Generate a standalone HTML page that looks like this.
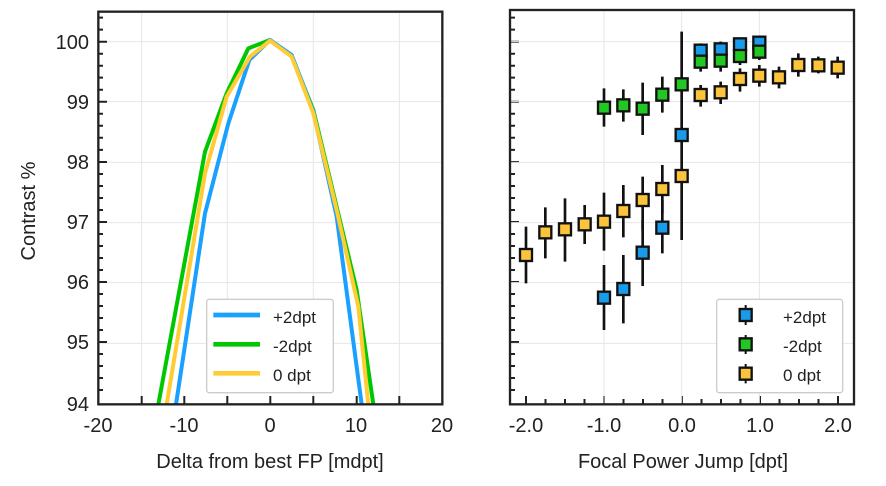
<!DOCTYPE html>
<html><head><meta charset="utf-8"><style>
body{margin:0;background:#fff;width:886px;height:481px;overflow:hidden}
text{font-family:"Liberation Sans",sans-serif;fill:#222}
</style></head><body>
<svg width="886" height="481" xmlns="http://www.w3.org/2000/svg">
<g transform="translate(90,0) scale(0.3333333)">
  <g stroke="#e6e6e6" stroke-width="3">
    <line x1="155" y1="35" x2="155" y2="1213"/><line x1="412" y1="35" x2="412" y2="1213"/>
    <line x1="670" y1="35" x2="670" y2="1213"/><line x1="928" y1="35" x2="928" y2="1213"/>
    <line x1="25" y1="125" x2="1057" y2="125"/><line x1="25" y1="305" x2="1057" y2="305"/>
    <line x1="25" y1="487" x2="1057" y2="487"/><line x1="25" y1="668" x2="1057" y2="668"/>
    <line x1="25" y1="848" x2="1057" y2="848"/><line x1="25" y1="1030" x2="1057" y2="1030"/>
  </g>
  <g fill="none" stroke-width="12" stroke-linejoin="round">
    <polyline stroke="#00c800" points="205,1213 345,455 410,280 475,145 540,120 605,168 670,330 735,600 800,870 850,1213"/>
    <polyline stroke="#1aa0ff" points="258,1213 345,640 415,370 478,180 540,120 605,165 670,335 740,650 815,1213"/>
    <polyline stroke="#ffcc33" points="230,1213 345,520 410,290 480,170 540,122 605,170 670,340 740,630 805,920 835,1213"/>
  </g>
  <rect x="350" y="898" width="380" height="280" rx="8" fill="#fff" fill-opacity="0.9" stroke="#ccc" stroke-width="4"/>
  <line x1="370" y1="945" x2="510" y2="945" stroke="#1aa0ff" stroke-width="14"/>
  <line x1="370" y1="1033" x2="510" y2="1033" stroke="#00c800" stroke-width="14"/>
  <line x1="370" y1="1120" x2="510" y2="1120" stroke="#ffcc33" stroke-width="14"/>
  <rect x="25" y="35" width="1032" height="1178" fill="none" stroke="#222" stroke-width="7"/>
</g>
<g stroke="#222" stroke-width="2">
  <path d="M98 41.7h9M98 101.7h9M98 162h9M98 222h9M98 282h9M98 342h9"/>
  <path d="M98 17.6h5M98 29.6h5M98 53.8h5M98 65.8h5M98 77.6h5M98 89.7h5M98 113.7h5M98 125.8h5M98 137.8h5M98 149.9h5M98 174h5M98 186h5M98 198h5M98 210h5M98 234h5M98 246h5M98 258h5M98 270h5M98 294h5M98 306h5M98 318h5M98 330h5M98 354h5M98 366h5M98 378h5M98 390h5"/>
  <path d="M141.7 404v-8M184.3 404v-8M227.3 404v-8M270.3 404v-8M313.3 404v-8M356.7 404v-8M399.3 404v-8"/>
  <path d="M510 41.7h9M510 101.7h9M510 162h9M510 222h9M510 282h9M510 342h9"/>
  <path d="M510 17.6h5M510 29.6h5M510 53.8h5M510 65.8h5M510 77.6h5M510 89.7h5M510 113.7h5M510 125.8h5M510 137.8h5M510 149.9h5M510 174h5M510 186h5M510 198h5M510 210h5M510 234h5M510 246h5M510 258h5M510 270h5M510 294h5M510 306h5M510 318h5M510 330h5M510 354h5M510 366h5M510 378h5M510 390h5"/>
  <path d="M526 404v-8M545.5 404v-5M565 404v-5M584.5 404v-5M604 404v-8M623.5 404v-5M643 404v-5M662.5 404v-5M682 404v-8M701.5 404v-5M721 404v-5M740.5 404v-5M760 404v-8M779.5 404v-5M799 404v-5M818.5 404v-5M838 404v-8"/>
</g>
<g transform="translate(480,0) scale(0.3333333)">
  <g stroke="#e6e6e6" stroke-width="3">
    <line x1="372" y1="30" x2="372" y2="1213"/><line x1="605" y1="30" x2="605" y2="1213"/><line x1="838" y1="30" x2="838" y2="1213"/>
    <line x1="90" y1="125" x2="1122" y2="125"/><line x1="90" y1="305" x2="1122" y2="305"/>
    <line x1="90" y1="487" x2="1122" y2="487"/><line x1="90" y1="668" x2="1122" y2="668"/>
    <line x1="90" y1="848" x2="1122" y2="848"/><line x1="90" y1="1030" x2="1122" y2="1030"/>
  </g>
  <g stroke="#111" stroke-width="8">
    <path d="M605 95V720M372 795V990M430 765V970M488 660V858M547 600V760M662 130V175M722 125V172M780 112V155M838 110V148"/>
    <path d="M372 265V380M430 268V365M488 248V405M547 230V338M662 150V215M722 150V215M780 140V195M838 125V180"/>
    <path d="M138 680V850M196 622V775M255 595V785M314 615V732M372 578V752M430 555V712M488 530V690M547 495V640M662 255V320M722 245V312M780 205V275M838 195V260M897 200V265M955 160V230M1015 170V220M1073 170V235"/>
  </g>
  <g stroke="#111" stroke-width="7">
    <g fill="#1a9bea">
      <rect x="354" y="875" width="36" height="36"/><rect x="412" y="849" width="36" height="36"/><rect x="470" y="740" width="36" height="36"/><rect x="529" y="665" width="36" height="36"/><rect x="587" y="387" width="36" height="36"/><rect x="644" y="134" width="36" height="36"/><rect x="704" y="130" width="36" height="36"/><rect x="762" y="115" width="36" height="36"/><rect x="820" y="110" width="36" height="36"/>
    </g>
    <g fill="#22c822">
      <rect x="354" y="305" width="36" height="36"/><rect x="412" y="298" width="36" height="36"/><rect x="470" y="308" width="36" height="36"/><rect x="529" y="266" width="36" height="36"/><rect x="587" y="235" width="36" height="36"/><rect x="644" y="167" width="36" height="36"/><rect x="704" y="164" width="36" height="36"/><rect x="762" y="150" width="36" height="36"/><rect x="820" y="137" width="36" height="36"/>
    </g>
    <g fill="#fcc43a">
      <rect x="120" y="747" width="36" height="36"/><rect x="178" y="679" width="36" height="36"/><rect x="237" y="670" width="36" height="36"/><rect x="296" y="655" width="36" height="36"/><rect x="354" y="647" width="36" height="36"/><rect x="412" y="615" width="36" height="36"/><rect x="470" y="582" width="36" height="36"/><rect x="529" y="549" width="36" height="36"/><rect x="587" y="510" width="36" height="36"/><rect x="644" y="267" width="36" height="36"/><rect x="704" y="259" width="36" height="36"/><rect x="762" y="219" width="36" height="36"/><rect x="820" y="209" width="36" height="36"/><rect x="879" y="214" width="36" height="36"/><rect x="937" y="177" width="36" height="36"/><rect x="997" y="178" width="36" height="36"/><rect x="1055" y="185" width="36" height="36"/>
    </g>
  </g>
  <rect x="710" y="898" width="378" height="280" rx="8" fill="#fff" fill-opacity="0.9" stroke="#ccc" stroke-width="4"/>
  <g stroke="#111" stroke-width="7">
    <path d="M797 915V975M797 1005V1062M797 1092V1150" stroke-width="6"/>
    <rect x="779" y="927" width="36" height="36" fill="#1a9bea"/>
    <rect x="779" y="1015" width="36" height="36" fill="#22c822"/>
    <rect x="779" y="1103" width="36" height="36" fill="#fcc43a"/>
  </g>
  <rect x="90" y="30" width="1032" height="1183" fill="none" stroke="#222" stroke-width="7"/>
</g>
<g font-size="20" text-anchor="end">
  <text x="89" y="49">100</text><text x="89" y="109">99</text><text x="89" y="169">98</text><text x="89" y="229">97</text><text x="89" y="289">96</text><text x="89" y="349">95</text><text x="89" y="411">94</text>
</g>
<g font-size="20" text-anchor="middle">
  <text x="98" y="432">-20</text><text x="184" y="432">-10</text><text x="270" y="432">0</text><text x="356" y="432">10</text><text x="442" y="432">20</text>
  <text x="526" y="432">-2.0</text><text x="604" y="432">-1.0</text><text x="682" y="432">0.0</text><text x="760" y="432">1.0</text><text x="838" y="432">2.0</text>
  <text x="270" y="468">Delta from best FP [mdpt]</text>
  <text x="683" y="468">Focal Power Jump [dpt]</text>
  <text transform="translate(35,211) rotate(-90)">Contrast %</text>
</g>
<g font-size="17">
  <text x="273" y="323">+2dpt</text><text x="273" y="352">-2dpt</text><text x="273" y="381">0 dpt</text>
  <text x="783" y="323">+2dpt</text><text x="783" y="352">-2dpt</text><text x="783" y="381">0 dpt</text>
</g>
</svg>
</body></html>
